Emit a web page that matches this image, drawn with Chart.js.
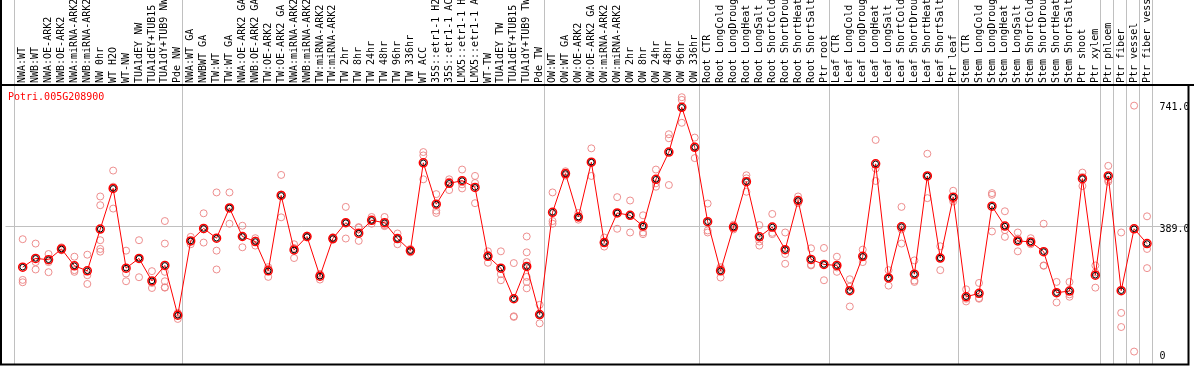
<!DOCTYPE html>
<html>
<head>
<meta charset="utf-8">
<script src="https://cdn.jsdelivr.net/npm/chart.js@4"></script>
<style>
  html, body { margin: 0; padding: 0; background: #fff; }
  #wrap { width: 1194px; height: 370px; }
</style>
</head>
<body>
<div id="wrap"><canvas id="expChart" width="1194" height="370"></canvas></div>
<script>
const geneId = "Potri.005G208900";

const categories = [
    "NWA:WT", "NWB:WT", "NWA:OE-ARK2", "NWB:OE-ARK2", "NWA:miRNA-ARK2", "NWB:miRNA-ARK2",
    "NW 0hr", "WT H2O", "WT-NW", "TUA1dEY NW", "TUA1dEY+TUB15", "TUA1dY+TUB9 NW", "Pde NW",
    "NWA:WT GA", "NWBWT GA", "TW:WT", "TW:WT GA", "NWA:OE-ARK2 GA", "NWB:OE-ARK2 GA",
    "TW:OE-ARK2", "TW:OE-ARK2 GA", "NWA:miRNA-ARK2", "NWB:miRNA-ARK2", "TW:miRNA-ARK2",
    "TW:miRNA-ARK2", "TW 2hr", "TW 8hr", "TW 24hr", "TW 48hr", "TW 96hr", "TW 336hr",
    "WT ACC", "35S::etr1-1 H2", "35S::etr1-1 AC", "LMX5::etr1-1 H", "LMX5::etr1-1 A",
    "WT-TW", "TUA1dEY TW", "TUA1dEY+TUB15", "TUA1dY+TUB9 TW", "Pde TW",
    "OW:WT", "OW:WT GA", "OW:OE-ARK2", "OW:OE-ARK2 GA", "OW:miRNA-ARK2", "OW:miRNA-ARK2",
    "OW 2hr", "OW 8hr", "OW 24hr", "OW 48hr", "OW 96hr", "OW 336hr",
    "Root CTR", "Root LongCold", "Root LongDroug", "Root LongHeat", "Root LongSalt",
    "Root ShortCold", "Root ShortDrou", "Root ShortHeat", "Root ShortSalt", "Ptr root",
    "Leaf CTR", "Leaf LongCold", "Leaf LongDroug", "Leaf LongHeat", "Leaf LongSalt",
    "Leaf ShortCold", "Leaf ShortDrou", "Leaf ShortHeat", "Leaf ShortSalt", "Ptr leaf",
    "Stem CTR", "Stem LongCold", "Stem LongDroug", "Stem LongHeat", "Stem LongSalt",
    "Stem ShortCold", "Stem ShortDrou", "Stem ShortHeat", "Stem ShortSalt",
    "Ptr shoot", "Ptr xylem", "Ptr phloem", "Ptr fiber", "Ptr vessel", "Ptr fiber vess"
];

const meanValues = [
    266, 292, 288, 320, 270, 255, 379, 500, 263, 292,
    225, 271, 123, 344, 381, 352, 442, 357, 342, 255,
    479, 317, 357, 239, 351, 398, 367, 405, 398, 351,
    315, 576, 453, 515, 523, 503, 298, 263, 172, 268,
    125, 429, 544, 415, 578, 339, 427, 420, 388, 527,
    608, 741, 622, 401, 255, 385, 520, 356, 385, 318,
    464, 289, 274, 271, 196, 298, 573, 234, 386, 245,
    537, 293, 474, 178, 188, 447, 388, 344, 341, 312,
    190, 195, 529, 242, 537, 196, 380, 336
];

const replicateValues = [
    [349, 228, 221], [336, 281, 259], [305, 281, 251], [325, 318, 316], [297, 257, 252],
    [303, 242, 216], [476, 450, 346, 320, 312], [553, 505, 440], [315, 247, 224], [346, 292, 236],
    [254, 219, 204], [403, 336, 252, 224, 205, 206], [130, 127, 112], [356, 343, 334], [426, 378, 339],
    [488, 315, 259], [488, 441, 395], [389, 357, 325], [352, 345, 330], [266, 261, 237],
    [540, 482, 414], [334, 323, 293], [360, 356, 354], [246, 242, 229], [355, 351, 347],
    [445, 398, 351], [385, 383, 344], [415, 406, 395], [415, 391, 388], [366, 351, 334],
    [320, 315, 310], [608, 598, 527], [483, 434, 427], [527, 520, 495], [556, 512, 500],
    [537, 516, 456], [313, 303, 279], [313, 245, 227], [278, 120, 118], [357, 310, 281, 237, 203, 222],
    [154, 123, 99], [488, 403, 395], [551, 544, 538], [427, 415, 407], [619, 578, 537],
    [354, 339, 327], [474, 427, 380], [464, 420, 369], [420, 369, 364], [556, 515, 505],
    [661, 649, 510], [771, 763, 695], [651, 625, 590], [455, 375, 369], [266, 262, 235],
    [392, 385, 378], [539, 530, 490], [391, 342, 330], [424, 368, 364], [369, 305, 276],
    [476, 461, 456], [322, 273, 271], [323, 273, 227], [297, 265, 252], [230, 208, 149],
    [318, 295, 281], [644, 559, 522], [257, 234, 211], [445, 378, 336], [286, 226, 222],
    [603, 538, 471], [328, 292, 257], [493, 468, 461], [200, 172, 164], [219, 174, 172],
    [486, 481, 372], [432, 376, 356], [369, 351, 313], [352, 338, 334], [395, 271, 270],
    [222, 188, 161], [222, 185, 178], [547, 534, 507], [271, 250, 205], [567, 525, 520],
    [369, 130, 88], [746, 15], [417, 320, 263]
];

const yTickValues = [0, 389, 741];
const yGridValues = [389];
// group separators sit just after these category numbers
const groupBreaks = [0, 13, 41, 53, 63, 73, 84, 85, 86, 87, 88];

const FONT = "10px 'DejaVu Sans Mono', monospace";

const meanPoints = meanValues.map((v, i) => ({ x: i + 1, y: v }));
const repPoints = [];
replicateValues.forEach((reps, i) => {
    reps.forEach(v => repPoints.push({ x: i + 1, y: v }));
});

const framePlugin = {
    id: "frame",
    beforeDatasetsDraw(chart) {
        const { ctx, chartArea: a, scales: { x, y } } = chart;
        ctx.save();
        ctx.strokeStyle = "#c0c0c0";
        ctx.lineWidth = 1;
        groupBreaks.forEach(k => {
            const px = Math.round(x.getPixelForValue(k + 0.36)) + 0.5;
            ctx.beginPath();
            ctx.moveTo(px, 0);
            ctx.lineTo(px, a.bottom);
            ctx.stroke();
        });
        yGridValues.forEach(v => {
            const py = Math.round(y.getPixelForValue(v)) + 0.5;
            ctx.beginPath();
            ctx.moveTo(a.left, py);
            ctx.lineTo(a.right, py);
            ctx.stroke();
        });
        ctx.restore();
    },
    afterDraw(chart) {
        const { ctx, chartArea: a, scales: { x, y } } = chart;
        ctx.save();
        // frame
        ctx.strokeStyle = "#000";
        ctx.lineWidth = 2;
        ctx.beginPath();
        ctx.moveTo(1, 0);
        ctx.lineTo(1, a.bottom);
        ctx.lineTo(a.right, a.bottom);
        ctx.lineTo(a.right, a.top);
        ctx.stroke();
        ctx.beginPath();
        ctx.moveTo(0, a.top);
        ctx.lineTo(chart.width, a.top);
        ctx.stroke();

        // rotated category labels
        ctx.font = FONT;
        ctx.fillStyle = "#000";
        ctx.textAlign = "left";
        ctx.textBaseline = "middle";
        categories.forEach((c, i) => {
            ctx.save();
            ctx.translate(x.getPixelForValue(i + 1), a.top - 2);
            ctx.rotate(-Math.PI / 2);
            ctx.fillText(c, 0, 0);
            ctx.restore();
        });

        // y labels
        yTickValues.forEach(v => {
            const py = y.getPixelForValue(v) + (yGridValues.includes(v) ? 4 : 0);
            ctx.fillText(v === 0 ? "0" : v.toFixed(1), a.right - 29, py);
        });

        // gene id
        ctx.fillStyle = "#ff0000";
        ctx.fillText(geneId, 8, a.top + 12);
        ctx.restore();
    }
};

new Chart(document.getElementById("expChart"), {
    type: "line",
    data: {
        datasets: [
            {
                data: repPoints,
                showLine: false,
                pointRadius: 3.5,
                pointBorderWidth: 1,
                pointBorderColor: "rgba(235,130,130,0.9)",
                pointBackgroundColor: "rgba(0,0,0,0)",
                order: 3
            },
            {
                data: meanPoints,
                borderColor: "#ff0000",
                borderWidth: 1,
                tension: 0,
                pointRadius: 4,
                pointBorderWidth: 1.5,
                pointBorderColor: "#ff0000",
                pointBackgroundColor: "rgba(0,0,0,0)",
                order: 2
            },
            {
                data: meanPoints,
                showLine: false,
                pointRadius: 2.8,
                pointBorderWidth: 1,
                pointBorderColor: "#000",
                pointBackgroundColor: "rgba(0,0,0,0)",
                order: 1
            }
        ]
    },
    options: {
        responsive: false,
        animation: false,
        layout: { padding: { left: 2, right: 2, top: 85, bottom: 1 } },
        plugins: {
            legend: { display: false },
            tooltip: { enabled: false }
        },
        scales: {
            x: { type: "linear", display: false, min: -0.3308, max: 91.208 },
            y: { type: "linear", display: false, min: -23.4, max: 807.3 }
        }
    },
    plugins: [framePlugin]
});
</script>
</body>
</html>
